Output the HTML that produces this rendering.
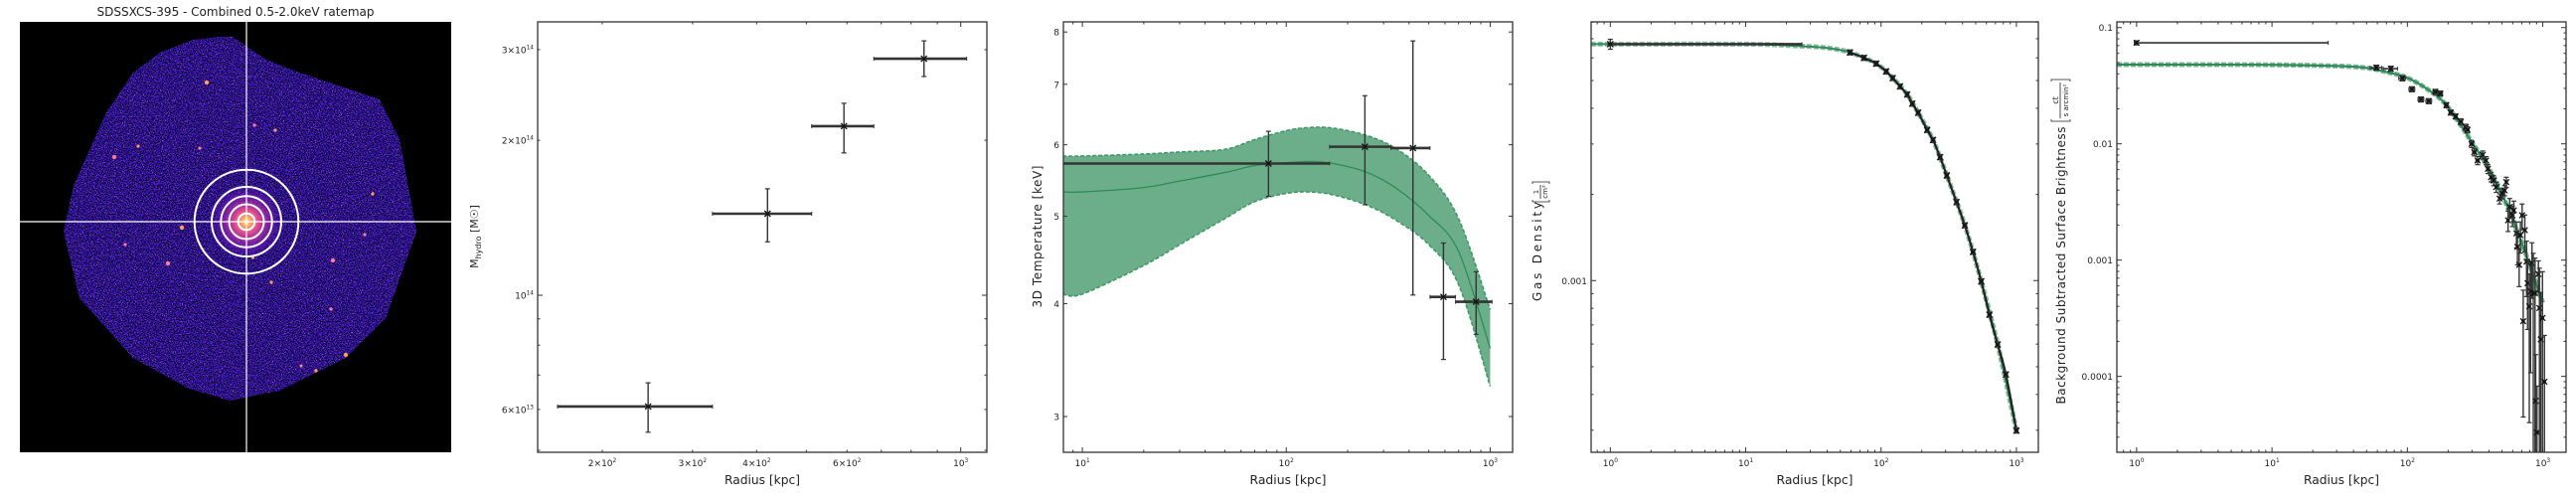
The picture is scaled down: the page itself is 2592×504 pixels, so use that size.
<!DOCTYPE html>
<html><head><meta charset="utf-8"><title>SDSSXCS-395 hydrostatic mass profiles</title>
<style>
html,body{margin:0;padding:0;background:#fff;}
svg{display:block;}
text{font-family:"DejaVu Sans","Liberation Sans",sans-serif;fill:#222;}
</style></head>
<body>
<svg id="fig" width="2592" height="504" viewBox="0 0 2592 504" xmlns="http://www.w3.org/2000/svg">
<defs>
  <filter id="noiseDark" filterUnits="userSpaceOnUse" x="20" y="22" width="434" height="433">
    <feTurbulence type="fractalNoise" baseFrequency="0.85" numOctaves="1" seed="7"/>
    <feColorMatrix type="matrix" values="0 0 0 0 0  0 0 0 0 0  0 0 0 0 0  -6 0 0 0 3.25"/>
  </filter>
  <filter id="noiseMag" filterUnits="userSpaceOnUse" x="20" y="22" width="434" height="433">
    <feTurbulence type="fractalNoise" baseFrequency="0.9" numOctaves="1" seed="21"/>
    <feColorMatrix type="matrix" values="0 0 0 0 0.85  0 0 0 0 0.1  0 0 0 0 0.95  0 6 0 0 -3.5"/>
  </filter>
  <radialGradient id="core" cx="248" cy="223" r="40" gradientUnits="userSpaceOnUse">
    <stop offset="0" stop-color="#fff6c0"/>
    <stop offset="0.1" stop-color="#ffb060"/>
    <stop offset="0.3" stop-color="#f05090" stop-opacity="0.9"/>
    <stop offset="0.65" stop-color="#9020c0" stop-opacity="0.5"/>
    <stop offset="1" stop-color="#3a14c0" stop-opacity="0"/>
  </radialGradient>
  <clipPath id="clip-img"><rect x="20" y="22" width="434" height="433"/></clipPath>
  <clipPath id="clip-blob"><polygon points="221,37 194,40 161,53 134,73 107,113 74,187 64,233 80,300 134,360 188,390 231,403 281,393 348,360 388,320 419,233 402,140 382,100 301,73 268,60 234,37"/></clipPath>
</defs>

<g>
  <text x="237" y="16" font-size="12" text-anchor="middle" textLength="279" lengthAdjust="spacingAndGlyphs">SDSSXCS-395 - Combined 0.5-2.0keV ratemap</text>
  <rect x="20" y="22" width="434" height="433" fill="#000"/>
  <g clip-path="url(#clip-blob)">
    <rect x="20" y="22" width="434" height="433" fill="#3816c4"/>
    <rect x="20" y="22" width="434" height="433" fill="#fff" filter="url(#noiseMag)"/>
    <rect x="20" y="22" width="434" height="433" fill="#fff" filter="url(#noiseDark)"/>
    <circle cx="248" cy="223" r="40" fill="url(#core)"/>
  </g>
  <g id="specks"></g>
  <g clip-path="url(#clip-img)">
    <line x1="248" y1="22" x2="248" y2="455" stroke="#fff" stroke-width="1.2"/>
    <line x1="20" y1="223" x2="454" y2="223" stroke="#fff" stroke-width="1.2"/>
  </g>
  <g id="rings" fill="none" stroke="#fff" stroke-width="2"></g>
</g>
</svg>

<script>
const NS='http://www.w3.org/2000/svg';
const svg=document.getElementById('fig');

// ---------- DATA ----------
const ringRadii=[52.3,35,25.7,17.5,8.3];
const speckX=[208,256,139,115,277,126,183,367,254.5,335,273,333,348,303,318,169,375,201];
const speckY=[83,126,147,158,131,246,229,236,259,262,284,311,357,368,373,265,195,149];

const massR=[245.7,420,592,848];
const massRlo=[163.6,328,512,677];
const massRhi=[328,512,677,1027];
const massM=[6.08e13,1.44e14,2.13e14,2.88e14];
const massMlo=[5.42e13,1.27e14,1.89e14,2.66e14];
const massMhi=[6.76e13,1.61e14,2.36e14,3.12e14];

const tempR=[81.8,243,418,590,853];
const tempRlo=[1,163,326,507,676];
const tempRhi=[163,326,507,676,1021];
const tempT=[5.72,5.97,5.95,4.07,4.02];
const tempTlo=[5.26,5.15,4.09,3.47,3.70];
const tempThi=[6.21,6.80,7.82,4.67,4.34];
const tmodR=[10,20,30,50,70,100,130,170,250,350,500,700,1000];
const tmodLo=[4.10,4.41,4.65,4.97,5.19,5.30,5.32,5.28,5.14,4.94,4.65,4.20,3.24];
const tmodMid=[5.32,5.38,5.47,5.59,5.69,5.73,5.75,5.72,5.59,5.36,5.01,4.57,3.57];
const tmodHi=[5.83,5.86,5.89,5.93,6.08,6.22,6.27,6.26,6.14,5.93,5.55,4.97,3.94];

const densR=[1,58.9,74.8,92,109,122,138,156,170,188,219,242,273,306,361,416,478,550,632,727,836,1000];
const densN=[0.0067,0.00627,0.0060,0.00573,0.00538,0.0051,0.00477,0.00447,0.00415,0.00386,0.00336,0.0031,0.0027,0.00233,0.00188,0.00156,0.00126,0.000993,0.00076,0.000598,0.00047,0.000299];
const densModR=[0.72,1,10,25,40,58.9,92,122,156,188,242,306,416,550,727,1000];
const densModN=[0.0067,0.0067,0.0067,0.0066,0.0065,0.00627,0.00573,0.0051,0.00447,0.00386,0.0031,0.00233,0.00156,0.000993,0.000598,0.000299];

const sbR=[1,59,75.5,91.8,108,126,144,161,175,194,209,227,248,270,278,298,312,330,360,381,393,415,433,453,480,502,523,538,554,570,597,611,639,650,669,684,704,717,737,759,772,795,813,832,851,877,887,907,929,945,966,995,1029];
const sbV=[0.074,0.0452,0.0443,0.0366,0.0295,0.0241,0.0233,0.028,0.0271,0.0215,0.0186,0.0172,0.0155,0.0139,0.0132,0.00998,0.00847,0.00719,0.00804,0.00719,0.0061,0.00517,0.00484,0.00425,0.00338,0.00373,0.00398,0.00469,0.0022,0.00287,0.00243,0.00268,0.0017,0.0013,0.00091,0.00164,0.00243,0.000298,0.00181,0.00097,0.000633,0.0004,0.000537,0.00094,0.00052,0.00052,6.15e-5,3.3e-5,0.000757,0.000387,0.000208,0.000318,9.0e-5];
const sbErr=[0.04,0.05,0.05,0.05,0.05,0.05,0.05,0.05,0.05,0.05,0.05,0.05,0.06,0.06,0.06,0.07,0.07,0.08,0.08,0.08,0.09,0.09,0.1,0.1,0.1,0.1,0.1,0.1,0.2,0.18,0.2,0.2,0.25,0.3,0.35,0.3,0.25,0.85,0.35,0.5,0.6,0.9,0.8,0.5,1.2,1.0,1.5,1.5,0.3,1.2,1.5,1.5,1.5];
const sbXerr=[0,0.1,0.12,0.06,0.05,0.05,0.05,0.04,0.04,0.03,0.03,0.03,0.03,0.03,0.03,0.03,0.03,0.03,0.02,0.02,0.02,0.02,0.02,0.02,0.02,0.02,0.02,0.02,0.02,0.02,0.02,0.02,0.02,0.02,0.02,0.02,0.02,0.02,0.02,0.02,0.02,0.02,0.02,0.02,0.02,0.02,0.02,0.02,0.02,0.02,0.02,0.02,0.02];
const sbFirstRange=[0.96,26];
const sbModR=[0.715,1,3,10,30,50,70,100,150,200,300,400,500,700,1000];
const sbModV=[0.048,0.048,0.048,0.0478,0.0467,0.045,0.0415,0.037,0.028,0.0206,0.0103,0.0061,0.0037,0.0014,0.00043];

// ---------- helpers ----------
function mk(tag,attrs,parent){const e=document.createElementNS(NS,tag);for(const k in attrs)e.setAttribute(k,attrs[k]);(parent||svg).appendChild(e);return e;}

const ringG=document.getElementById('rings');
ringRadii.forEach((r,i)=>{
  const c=mk('circle',{cx:248,cy:223,r:r},ringG);
  
  
});
const speckG=document.getElementById('specks');
speckX.forEach((x,i)=>{
  const c=mk('circle',{cx:x,cy:speckY[i],r:i%3===0?2.2:1.6,fill:i%2?'#ff7a9a':'#ffa050'},speckG);
  
  
});

function panel(name,x0,x1,y0,y1,lx0,lx1,ly0,ly1){
  const g=mk('g',{});
  
  
  const cp=mk('clipPath',{id:'clip-'+name},g);
  mk('rect',{x:x0,y:y0,width:x1-x0,height:y1-y0},cp);
  const plot=mk('g',{'clip-path':'url(#clip-'+name+')'},g);
  return {g,plot,x0,x1,y0,y1,lx0,lx1,ly0,ly1,
    sx:v=>x0+(Math.log10(v)-lx0)/(lx1-lx0)*(x1-x0),
    sy:v=>y1-(Math.log10(v)-ly0)/(ly1-ly0)*(y1-y0)};
}
function frame(p){
  const r=mk('rect',{x:p.x0,y:p.y0,width:p.x1-p.x0,height:p.y1-p.y0,fill:'none',stroke:'#333','stroke-width':1.3},p.g);
  
  
}
function logTicks(lo,hi){const maj=[],min=[];for(let d=Math.floor(lo);d<=Math.ceil(hi);d++){for(let m=1;m<10;m++){const v=m*Math.pow(10,d);const l=Math.log10(v);if(l<lo||l>hi)continue;(m===1?maj:min).push(v);}}return {maj,min};}
function drawTicks(p,axis){
  const lo=axis==='x'?p.lx0:p.ly0, hi=axis==='x'?p.lx1:p.ly1;
  const t=logTicks(lo,hi);
  [[t.maj,5],[t.min,2.5]].forEach(([vals,len])=>{
    vals.forEach(v=>{
      if(axis==='x'){
        const x=p.sx(v);
        const a=mk('line',{x1:x,x2:x,y1:p.y1,y2:p.y1-len,stroke:'#333','stroke-width':1},p.g);
        
        
        const b=mk('line',{x1:x,x2:x,y1:p.y0,y2:p.y0+len,stroke:'#333','stroke-width':1},p.g);
        
        
      }else{
        const y=p.sy(v);
        const a=mk('line',{x1:p.x0,x2:p.x0+len,y1:y,y2:y,stroke:'#333','stroke-width':1},p.g);
        
        
        const b=mk('line',{x1:p.x1,x2:p.x1-len,y1:y,y2:y,stroke:'#333','stroke-width':1},p.g);
        
        
      }
    });
  });
}
function tickLabels(p,axis,vals,mains,sups,fs){
  vals.forEach((v,i)=>{
    let t;
    if(axis==='x'){t=mk('text',{x:p.sx(v),y:p.y1+14,'font-size':fs,'text-anchor':'middle'},p.g);}
    else{t=mk('text',{x:p.x0-4,y:p.sy(v)+3.5,'font-size':fs,'text-anchor':'end'},p.g);}
    
    
    t.appendChild(document.createTextNode(mains[i]));
    if(sups[i]){const s=mk('tspan',{dy:-4,'font-size':fs*0.65},t);s.textContent=sups[i];}
  });
}
function xLabel(p,txt,len){
  const t=mk('text',{x:(p.x0+p.x1)/2,y:487,'font-size':12,'text-anchor':'middle',textLength:len,lengthAdjust:'spacingAndGlyphs'},p.g);
  
  
  t.textContent=txt;
}
function errbar(p,x,y,xlo,xhi,ylo,yhi,hw,ms){
  const X=p.sx(x),Y=p.sy(y),col='#333';
  const h=mk('line',{x1:p.sx(xlo),x2:p.sx(xhi),y1:Y,y2:Y,stroke:col,'stroke-width':hw},p.plot);
  
  
  const Ylo=ylo>0?p.sy(ylo):p.y1+10, Yhi=p.sy(yhi);
  const v=mk('line',{x1:X,x2:X,y1:Ylo,y2:Yhi,stroke:col,'stroke-width':1.4},p.plot);
  
  
  [Ylo,Yhi].forEach(yy=>{
    const c=mk('line',{x1:X-2.5,x2:X+2.5,y1:yy,y2:yy,stroke:col,'stroke-width':1.2},p.plot);
    
    
  });
  [p.sx(xlo),p.sx(xhi)].forEach(xx=>{
    const c=mk('line',{x1:xx,x2:xx,y1:Y-2,y2:Y+2,stroke:col,'stroke-width':1},p.plot);
    
    
  });
  const m=mk('path',{d:`M${X-ms},${Y-ms}L${X+ms},${Y+ms}M${X-ms},${Y+ms}L${X+ms},${Y-ms}`,stroke:'#111','stroke-width':1.3,fill:'none'},p.plot);
  
  
}
function smooth(pts){
  let d=`M${pts[0][0]},${pts[0][1]}`;
  for(let i=0;i<pts.length-1;i++){
    const p0=pts[Math.max(0,i-1)],p1=pts[i],p2=pts[i+1],p3=pts[Math.min(pts.length-1,i+2)];
    d+=`C${p1[0]+(p2[0]-p0[0])/6},${p1[1]+(p2[1]-p0[1])/6} ${p2[0]-(p3[0]-p1[0])/6},${p2[1]-(p3[1]-p1[1])/6} ${p2[0]},${p2[1]}`;
  }
  return d;
}
function rotLabel(x,cy,txt,len,name){
  const t=mk('text',{x:x,y:cy,'font-size':12,'text-anchor':'middle',transform:`rotate(-90 ${x} ${cy})`,textLength:len,lengthAdjust:'spacing'});
  
  
  t.textContent=txt;
  return t;
}

// ---------- Panel 2: Mass ----------
const P2=panel('mass-panel',541,993,22,455,2.175,3.051,13.695,14.531);
massR.forEach((r,i)=>errbar(P2,r,massM[i],massRlo[i],massRhi[i],massMlo[i],massMhi[i],2.6,3));
frame(P2);drawTicks(P2,'x');drawTicks(P2,'y');
tickLabels(P2,'x',[200,300,400,600,1000],['2×10','3×10','4×10','6×10','10'],['2','2','2','2','3'],9);
tickLabels(P2,'y',[6e13,1e14,2e14,3e14],['6×10','10','2×10','3×10'],['13','14','14','14'],9);
xLabel(P2,'Radius [kpc]',76);
{const t=mk('text',{x:481,y:238,'font-size':11,'text-anchor':'middle',transform:'rotate(-90 481 238)'});
 
 
 t.appendChild(document.createTextNode('M'));
 const s=mk('tspan',{dy:3,'font-size':8},t);s.textContent='hydro';
 const s2=mk('tspan',{dy:-3},t);s2.textContent=' [M☉]';}

// ---------- Panel 3: Temperature ----------
const P3=panel('temperature-panel',1070,1522,22,455,0.907,3.11,0.4375,0.9143);
{
  const rr=[8].concat(tmodR);
  const hi=[tmodHi[0]].concat(tmodHi), lo=[tmodLo[0]].concat(tmodLo), mid=[tmodMid[0]].concat(tmodMid);
  const up=rr.map((r,i)=>[P3.sx(r),P3.sy(hi[i])]);
  const dn=rr.map((r,i)=>[P3.sx(r),P3.sy(lo[i])]);
  const upD=smooth(up);
  const dnRev=dn.slice().reverse();
  const band=mk('path',{d:upD+smooth(dnRev).replace(/^M/,'L')+'Z',fill:'rgb(46,139,87)','fill-opacity':0.7,stroke:'none'},P3.plot);
  
  
  const e1=mk('path',{d:upD,fill:'none',stroke:'#3e9a66','stroke-width':1.6,'stroke-dasharray':'4 2'},P3.plot);
  
  
  const e2=mk('path',{d:smooth(dn),fill:'none',stroke:'#3e9a66','stroke-width':1.6,'stroke-dasharray':'4 2'},P3.plot);
  
  
  const m=mk('path',{d:smooth(rr.map((r,i)=>[P3.sx(r),P3.sy(mid[i])])),fill:'none',stroke:'#2e8b57','stroke-width':1.3},P3.plot);
  
  
}
tempR.forEach((r,i)=>errbar(P3,r,tempT[i],tempRlo[i],tempRhi[i],tempTlo[i],tempThi[i],2.6,3));
frame(P3);drawTicks(P3,'x');
[3,4,5,6,7,8].forEach(v=>{
  const y=P3.sy(v);
  const a=mk('line',{x1:P3.x0,x2:P3.x0+4,y1:y,y2:y,stroke:'#333'},P3.g);
  
  
  const b=mk('line',{x1:P3.x1,x2:P3.x1-4,y1:y,y2:y,stroke:'#333'},P3.g);
  
  
});
tickLabels(P3,'x',[10,100,1000],['10','10','10'],['1','2','3'],9);
tickLabels(P3,'y',[3,4,5,6,7,8],['3','4','5','6','7','8'],['','','','','',''],9);
xLabel(P3,'Radius [kpc]',77);
rotLabel(1048,238,'3D Temperature [keV]',143,'y-axis-title');

// ---------- Panel 4: Density ----------
const P4=panel('density-panel',1601,2051,22,455,-0.142,3.162,-3.600,-2.096);
{
  const pts=densModR.map((r,i)=>[P4.sx(r),P4.sy(densModN[i])]);
  const b=mk('path',{d:smooth(pts),fill:'none',stroke:'rgb(46,139,87)','stroke-opacity':0.55,'stroke-width':5,'stroke-dasharray':'5 2'},P4.plot);
  
  
  const l=mk('path',{d:smooth(pts),fill:'none',stroke:'#2e8b57','stroke-width':2},P4.plot);
  
  
  const dp=densR.slice(1).map((r,i)=>[P4.sx(r),P4.sy(densN[i+1])]);
  const dl=mk('path',{d:smooth(dp),fill:'none',stroke:'#222','stroke-width':2.2},P4.plot);
  
  
}
densR.forEach((r,i)=>{
  if(i===0) errbar(P4,r,densN[i],0.96,26,densN[i]*0.96,densN[i]*1.04,2.6,3);
  else errbar(P4,r,densN[i],r*0.97,r*1.03,densN[i]*0.98,densN[i]*1.02,1.4,3);
});
frame(P4);drawTicks(P4,'x');drawTicks(P4,'y');
tickLabels(P4,'x',[1,10,100,1000],['10','10','10','10'],['0','1','2','3'],9);
tickLabels(P4,'y',[0.001],['0.001'],[''],9);
xLabel(P4,'Radius [kpc]',77);
{
  rotLabel(1551,253,'Gas Density',100,'y-axis-title');
  const g=mk('g',{transform:'rotate(-90 1551 193)'});
  
  
  mk('text',{x:1551,y:190,'font-size':7,'text-anchor':'middle'},g).textContent='1';
  mk('line',{x1:1544,x2:1558,y1:192,y2:192,stroke:'#222','stroke-width':0.8},g);
  mk('text',{x:1551,y:199,'font-size':7,'text-anchor':'middle'},g).textContent='cm³';
  mk('path',{d:'M1543,184 L1541,184 L1541,201 L1543,201 M1559,184 L1561,184 L1561,201 L1559,201',fill:'none',stroke:'#222','stroke-width':0.8},g);
}

// ---------- Panel 5: Surface brightness ----------
const P5=panel('surface-brightness-panel',2130,2582,22,455,-0.146,3.172,-4.653,-0.951);
{
  const pts=sbModR.map((r,i)=>[P5.sx(r),P5.sy(sbModV[i])]);
  const b=mk('path',{d:smooth(pts),fill:'none',stroke:'rgb(46,139,87)','stroke-opacity':0.6,'stroke-width':5,'stroke-dasharray':'5 2'},P5.plot);
  
  
  const l=mk('path',{d:smooth(pts),fill:'none',stroke:'#2e8b57','stroke-width':2.2},P5.plot);
  
  
}
sbR.forEach((r,i)=>{
  const v=sbV[i],e=sbErr[i];
  const xlo=i===0?sbFirstRange[0]:r*(1-sbXerr[i]);
  const xhi=i===0?sbFirstRange[1]:r*(1+sbXerr[i]);
  errbar(P5,r,v,xlo,xhi,v*(1-e),v*(1+e),1.6,2.8);
});
frame(P5);drawTicks(P5,'x');drawTicks(P5,'y');
tickLabels(P5,'x',[1,10,100,1000],['10','10','10','10'],['0','1','2','3'],9);
tickLabels(P5,'y',[0.1,0.01,0.001,0.0001],['0.1','0.01','0.001','0.0001'],['','','',''],9);
xLabel(P5,'Radius [kpc]',76);
{
  rotLabel(2078,267,'Background Subtracted Surface Brightness',279,'y-axis-title');
  const g=mk('g',{transform:'rotate(-90 2074 101)'});
  
  
  mk('text',{x:2074,y:98,'font-size':8,'text-anchor':'middle'},g).textContent='ct';
  mk('line',{x1:2056,x2:2092,y1:100,y2:100,stroke:'#222','stroke-width':0.8},g);
  mk('text',{x:2074,y:108,'font-size':7,'text-anchor':'middle'},g).textContent='s arcmin²';
  mk('path',{d:'M2055,91 L2053,91 L2053,110 L2055,110 M2093,91 L2095,91 L2095,110 L2093,110',fill:'none',stroke:'#222','stroke-width':0.8},g);
}
</script>
</body></html>
